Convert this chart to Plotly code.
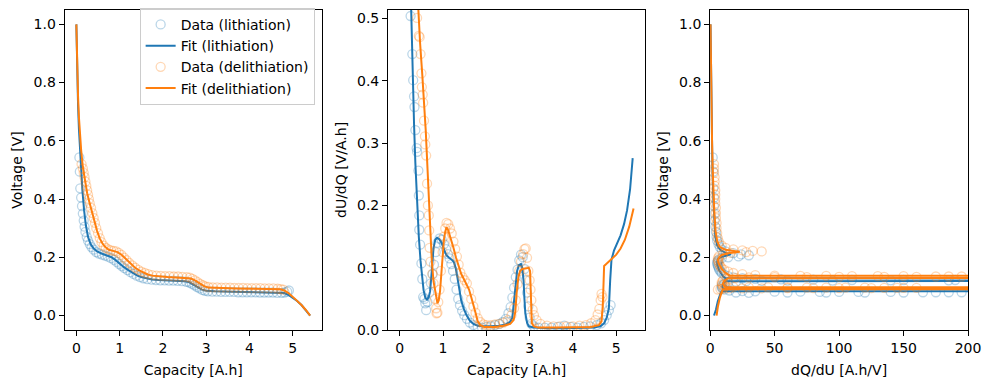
import plotly.graph_objects as go

# ---------------- Panel 1: Voltage vs Capacity ----------------
cap_lith_data = [0.07, 0.08, 0.09, 0.11, 0.13, 0.15, 0.17, 0.19, 0.21, 0.24, 0.27, 0.31, 0.35, 0.40, 0.46, 0.52,
                 0.59, 0.66, 0.73, 0.80, 0.87, 0.93, 0.99, 1.05, 1.11, 1.18, 1.25, 1.32, 1.39, 1.47, 1.55, 1.64,
                 1.74, 1.84, 1.94, 2.04, 2.14, 2.24, 2.34, 2.44, 2.54, 2.61, 2.67, 2.73, 2.79, 2.85, 2.91, 2.97,
                 3.04, 3.14, 3.24, 3.34, 3.44, 3.54, 3.64, 3.74, 3.84, 3.94, 4.04, 4.14, 4.24, 4.34, 4.44, 4.54,
                 4.64, 4.74, 4.81, 4.87, 4.91]
volt_lith_data = [0.543, 0.494, 0.437, 0.405, 0.376, 0.350, 0.326, 0.305, 0.287, 0.270, 0.257, 0.245, 0.235, 0.226,
                  0.218, 0.213, 0.209, 0.206, 0.202, 0.197, 0.191, 0.184, 0.177, 0.170, 0.163, 0.156, 0.149, 0.143,
                  0.137, 0.132, 0.128, 0.125, 0.123, 0.122, 0.121, 0.121, 0.120, 0.120, 0.119, 0.118, 0.116, 0.113,
                  0.109, 0.104, 0.098, 0.093, 0.088, 0.085, 0.083, 0.082, 0.082, 0.081, 0.081, 0.081, 0.081, 0.080,
                  0.080, 0.080, 0.080, 0.080, 0.079, 0.079, 0.079, 0.079, 0.078, 0.078, 0.079, 0.082, 0.086]

cap_lith_fit = [0.0, 0.01, 0.02, 0.04, 0.06, 0.08, 0.11, 0.14, 0.18, 0.22, 0.27, 0.33, 0.40, 0.48, 0.58, 0.70,
                0.80, 0.90, 1.00, 1.10, 1.20, 1.30, 1.40, 1.50, 1.60, 1.75, 1.90, 2.10, 2.30, 2.50, 2.60, 2.70,
                2.80, 2.90, 3.00, 3.20, 3.60, 4.00, 4.40, 4.70, 4.80, 4.90, 5.00, 5.10, 5.20, 5.30, 5.40]
volt_lith_fit = [1.0, 0.90, 0.82, 0.72, 0.64, 0.58, 0.50, 0.43, 0.36, 0.31, 0.27, 0.245, 0.23, 0.22, 0.213, 0.207,
                 0.201, 0.191, 0.178, 0.166, 0.156, 0.146, 0.138, 0.132, 0.128, 0.124, 0.122, 0.121, 0.120, 0.118,
                 0.115, 0.107, 0.097, 0.089, 0.085, 0.083, 0.082, 0.081, 0.080, 0.079, 0.077, 0.071, 0.062, 0.050,
                 0.036, 0.019, 0.0]

cap_delith_data = [0.12, 0.15, 0.17, 0.19, 0.21, 0.23, 0.25, 0.27, 0.29, 0.31, 0.34, 0.37, 0.40, 0.43, 0.46, 0.50,
                   0.54, 0.58, 0.63, 0.68, 0.74, 0.80, 0.86, 0.92, 0.98, 1.04, 1.10, 1.16, 1.22, 1.29, 1.36, 1.43,
                   1.50, 1.58, 1.66, 1.75, 1.85, 1.95, 2.05, 2.15, 2.25, 2.35, 2.45, 2.55, 2.62, 2.68, 2.74, 2.80,
                   2.86, 2.92, 2.98, 3.05, 3.15, 3.25, 3.35, 3.45, 3.55, 3.65, 3.75, 3.85, 3.95, 4.05, 4.15, 4.25,
                   4.35, 4.45, 4.55, 4.65, 4.72, 4.78]
volt_delith_data = [0.520, 0.505, 0.490, 0.475, 0.460, 0.445, 0.430, 0.415, 0.400, 0.385, 0.370, 0.352, 0.335, 0.318,
                    0.300, 0.283, 0.266, 0.252, 0.240, 0.232, 0.227, 0.224, 0.222, 0.220, 0.215, 0.208, 0.199, 0.190,
                    0.181, 0.172, 0.164, 0.157, 0.151, 0.146, 0.142, 0.139, 0.137, 0.136, 0.135, 0.135, 0.134, 0.134,
                    0.133, 0.132, 0.130, 0.126, 0.121, 0.115, 0.109, 0.104, 0.100, 0.098, 0.097, 0.097, 0.096, 0.096,
                    0.096, 0.095, 0.095, 0.095, 0.094, 0.094, 0.094, 0.094, 0.093, 0.093, 0.093, 0.092, 0.091, 0.089]

cap_delith_fit = [0.0, 0.01, 0.02, 0.04, 0.06, 0.08, 0.11, 0.15, 0.20, 0.25, 0.30, 0.36, 0.42, 0.48, 0.54, 0.60,
                  0.67, 0.75, 0.85, 0.95, 1.05, 1.15, 1.25, 1.35, 1.45, 1.55, 1.65, 1.75, 1.90, 2.10, 2.30, 2.50,
                  2.65, 2.75, 2.85, 2.95, 3.05, 3.30, 3.70, 4.10, 4.50, 4.72, 4.80, 4.90, 5.00, 5.10, 5.20, 5.30, 5.40]
volt_delith_fit = [1.0, 0.91, 0.84, 0.75, 0.68, 0.63, 0.57, 0.51, 0.46, 0.42, 0.39, 0.355, 0.32, 0.29, 0.265, 0.248,
                   0.235, 0.226, 0.222, 0.218, 0.208, 0.193, 0.178, 0.165, 0.155, 0.147, 0.141, 0.137, 0.134, 0.132,
                   0.131, 0.130, 0.127, 0.120, 0.110, 0.101, 0.096, 0.094, 0.093, 0.092, 0.091, 0.090, 0.086, 0.077,
                   0.064, 0.051, 0.036, 0.019, 0.0]

# ---------------- Panel 2: dU/dQ vs Capacity ----------------
dudq_cap_lith_data = [0.25, 0.29, 0.31, 0.33, 0.34, 0.36, 0.39, 0.40, 0.43, 0.44, 0.45, 0.45, 0.47, 0.50, 0.52, 0.54,
                      0.57, 0.59, 0.61, 0.64, 0.68, 0.72, 0.76, 0.79, 0.83, 0.87, 0.92, 0.97, 1.02, 1.07, 1.11, 1.15,
                      1.19, 1.23, 1.27, 1.31, 1.35, 1.39, 1.44, 1.49, 1.55, 1.62, 1.70, 1.80, 1.90, 2.00, 2.10, 2.20,
                      2.30, 2.38, 2.45, 2.51, 2.56, 2.60, 2.64, 2.68, 2.72, 2.76, 2.80, 2.84, 2.88, 2.91, 2.94, 2.97,
                      3.00, 3.04, 3.10, 3.20, 3.35, 3.50, 3.65, 3.80, 3.95, 4.10, 4.25, 4.40, 4.55, 4.65, 4.72, 4.78,
                      4.83, 4.87]
dudq_lith_data = [0.504, 0.443, 0.401, 0.375, 0.358, 0.321, 0.292, 0.286, 0.256, 0.216, 0.184, 0.161, 0.137, 0.107,
                  0.082, 0.053, 0.050, 0.043, 0.032, 0.045, 0.060, 0.075, 0.090, 0.105, 0.125, 0.140, 0.147, 0.145,
                  0.138, 0.130, 0.122, 0.115, 0.106, 0.095, 0.082, 0.065, 0.050, 0.040, 0.031, 0.024, 0.018, 0.012,
                  0.008, 0.005, 0.004, 0.005, 0.006, 0.008, 0.010, 0.013, 0.018, 0.027, 0.037, 0.052, 0.068, 0.085,
                  0.097, 0.112, 0.121, 0.117, 0.098, 0.080, 0.060, 0.038, 0.020, 0.010, 0.006, 0.004, 0.004, 0.004,
                  0.005, 0.007, 0.005, 0.004, 0.005, 0.006, 0.008, 0.011, 0.016, 0.024, 0.032, 0.040]

dudq_cap_lith_fit = [0.24, 0.27, 0.30, 0.33, 0.36, 0.40, 0.44, 0.48, 0.52, 0.55, 0.59, 0.63, 0.67, 0.70, 0.74, 0.78,
                     0.82, 0.86, 0.91, 0.97, 1.03, 1.08, 1.14, 1.20, 1.25, 1.29, 1.33, 1.37, 1.42, 1.48, 1.54, 1.62,
                     1.70, 1.80, 1.92, 2.10, 2.30, 2.45, 2.55, 2.60, 2.64, 2.67, 2.71, 2.75, 2.80, 2.83, 2.86, 2.88,
                     2.90, 2.94, 2.98, 3.10, 3.40, 3.80, 4.20, 4.50, 4.65, 4.72, 4.78, 4.83, 4.86, 4.89, 4.95, 5.02,
                     5.10, 5.18, 5.25, 5.32, 5.38]
dudq_lith_fit = [0.58, 0.48, 0.40, 0.33, 0.268, 0.20, 0.15, 0.111, 0.080, 0.064, 0.052, 0.049, 0.053, 0.062, 0.095,
                 0.132, 0.145, 0.148, 0.146, 0.140, 0.128, 0.120, 0.116, 0.113, 0.109, 0.100, 0.085, 0.065, 0.047,
                 0.034, 0.024, 0.015, 0.010, 0.007, 0.006, 0.006, 0.007, 0.009, 0.013, 0.020, 0.045, 0.074, 0.095,
                 0.104, 0.106, 0.100, 0.079, 0.050, 0.027, 0.012, 0.006, 0.004, 0.003, 0.003, 0.003, 0.004, 0.007,
                 0.011, 0.020, 0.035, 0.080, 0.113, 0.128, 0.140, 0.152, 0.170, 0.192, 0.226, 0.276]

dudq_cap_delith_data = [0.40, 0.44, 0.46, 0.48, 0.50, 0.51, 0.53, 0.54, 0.56, 0.58, 0.59, 0.61, 0.63, 0.65, 0.67, 0.68,
                        0.69, 0.71, 0.75, 0.78, 0.81, 0.84, 0.85, 0.87, 0.89, 0.92, 0.95, 0.99, 1.02, 1.05, 1.08, 1.12,
                        1.16, 1.20, 1.24, 1.28, 1.32, 1.36, 1.40, 1.45, 1.50, 1.55, 1.60, 1.65, 1.70, 1.75, 1.80, 1.86,
                        1.93, 2.00, 2.10, 2.20, 2.30, 2.40, 2.50, 2.58, 2.64, 2.68, 2.72, 2.76, 2.80, 2.85, 2.88, 2.91,
                        2.94, 2.97, 3.00, 3.02, 3.04, 3.07, 3.10, 3.16, 3.25, 3.40, 3.55, 3.70, 3.85, 4.00, 4.15, 4.30,
                        4.42, 4.52, 4.57, 4.61, 4.64, 4.66, 4.68]
dudq_delith_data = [0.501, 0.472, 0.470, 0.443, 0.412, 0.390, 0.378, 0.365, 0.336, 0.311, 0.298, 0.280, 0.235, 0.200,
                    0.184, 0.160, 0.132, 0.110, 0.090, 0.075, 0.050, 0.035, 0.027, 0.028, 0.045, 0.065, 0.095, 0.125,
                    0.150, 0.163, 0.172, 0.170, 0.163, 0.155, 0.142, 0.130, 0.118, 0.105, 0.092, 0.085, 0.080, 0.075,
                    0.062, 0.050, 0.038, 0.028, 0.019, 0.013, 0.009, 0.008, 0.008, 0.009, 0.010, 0.012, 0.016, 0.024,
                    0.035, 0.048, 0.074, 0.095, 0.110, 0.122, 0.130, 0.131, 0.116, 0.095, 0.080, 0.065, 0.048, 0.033,
                    0.024, 0.016, 0.010, 0.007, 0.006, 0.006, 0.006, 0.006, 0.007, 0.008, 0.011, 0.016, 0.025, 0.034,
                    0.048, 0.058, 0.053]

dudq_cap_delith_fit = [0.38, 0.42, 0.47, 0.52, 0.56, 0.60, 0.64, 0.67, 0.71, 0.74, 0.78, 0.82, 0.85, 0.87, 0.90, 0.93,
                       0.96, 0.99, 1.02, 1.05, 1.08, 1.12, 1.18, 1.24, 1.30, 1.36, 1.42, 1.48, 1.54, 1.60, 1.65, 1.70,
                       1.75, 1.80, 1.86, 1.95, 2.20, 2.40, 2.55, 2.63, 2.67, 2.70, 2.74, 2.78, 2.83, 2.90, 2.98, 3.01,
                       3.03, 3.05, 3.10, 3.20, 3.60, 4.00, 4.40, 4.60, 4.66, 4.69, 4.71, 4.72, 4.80, 4.90, 5.00, 5.10,
                       5.20, 5.30, 5.40]
dudq_delith_fit = [0.58, 0.52, 0.46, 0.41, 0.373, 0.320, 0.260, 0.216, 0.160, 0.111, 0.078, 0.059, 0.046, 0.043, 0.048,
                   0.062, 0.090, 0.121, 0.145, 0.158, 0.165, 0.160, 0.147, 0.132, 0.116, 0.102, 0.090, 0.082, 0.074,
                   0.065, 0.053, 0.042, 0.028, 0.014, 0.008, 0.005, 0.005, 0.007, 0.010, 0.016, 0.030, 0.060, 0.085,
                   0.095, 0.098, 0.099, 0.100, 0.095, 0.040, 0.011, 0.006, 0.004, 0.004, 0.004, 0.005, 0.008, 0.014,
                   0.040, 0.080, 0.103, 0.108, 0.114, 0.121, 0.131, 0.145, 0.166, 0.195]

# ---------------- Panel 3: Voltage vs dQ/dU ----------------
dqdu_lith_data = [2.0, 2.5, 2.5, 3.0, 3.0, 3.5, 3.5, 4.0, 4.5, 5.0, 5.5, 6.5, 7.5, 9.0, 12, 18, 24, 30, 22, 14, 9, 7,
                  6, 5.5, 5.5, 6, 6.5, 7, 8, 9, 11, 14, 18, 25, 35, 55, 80, 110, 150, 190, 185, 140, 95, 60, 40, 28,
                  20, 14, 11, 9, 9, 9.5, 11, 15, 25, 35, 50, 70, 85, 100, 115, 140, 165, 185, 195, 175, 150, 120, 90,
                  60, 30, 20]
dqdu_volt_lith_data = [0.543, 0.494, 0.437, 0.405, 0.376, 0.350, 0.326, 0.305, 0.287, 0.270, 0.257, 0.245, 0.235,
                       0.226, 0.220, 0.214, 0.210, 0.207, 0.203, 0.200, 0.197, 0.193, 0.188, 0.183, 0.177, 0.171,
                       0.165, 0.158, 0.152, 0.146, 0.140, 0.135, 0.131, 0.128, 0.126, 0.124, 0.123, 0.122, 0.122,
                       0.122, 0.121, 0.121, 0.120, 0.120, 0.119, 0.118, 0.116, 0.113, 0.109, 0.104, 0.098, 0.093,
                       0.089, 0.086, 0.084, 0.083, 0.082, 0.082, 0.081, 0.081, 0.081, 0.081, 0.080, 0.080, 0.080,
                       0.080, 0.079, 0.079, 0.079, 0.079, 0.078, 0.079]

dqdu_lith_fit = [0.3, 0.5, 0.7, 1.0, 1.3, 1.8, 2.5, 3.2, 4.0, 5.5, 8, 12, 16, 12, 8, 6, 5.5, 5.5, 6, 7, 8.5, 10, 12,
                 1000, 1000, 12, 10, 9.5, 10, 1000, 1000, 9, 8, 6, 4.5, 3]
dqdu_volt_lith_fit = [1.0, 0.9, 0.8, 0.7, 0.6, 0.5, 0.4, 0.32, 0.27, 0.24, 0.225, 0.215, 0.210, 0.205, 0.200, 0.193,
                      0.185, 0.175, 0.165, 0.155, 0.145, 0.135, 0.128, 0.1255, 0.1225, 0.118, 0.110, 0.100, 0.092,
                      0.0895, 0.0865, 0.083, 0.075, 0.05, 0.02, 0.0]

dqdu_delith_data = [3.0, 3.0, 3.0, 3.5, 3.5, 3.5, 4.0, 4.0, 4.0, 4.0, 4.5, 4.5, 4.5, 5.0, 5.0, 5.5, 6.0, 7.0, 9.0, 12,
                    18, 25, 33, 40, 28, 16, 10, 7, 6, 6, 6.5, 7, 8, 9, 11, 14, 18, 25, 35, 50, 70, 90, 110, 130, 150,
                    175, 195, 185, 160, 135, 100, 75, 50, 30, 20, 13, 10, 9, 9, 10, 12, 18, 30, 45, 60, 75, 90, 105,
                    120, 135, 150, 160, 145, 125, 100, 80, 60, 40, 25, 15, 10, 8, 6]
dqdu_volt_delith_data = [0.520, 0.505, 0.490, 0.475, 0.460, 0.445, 0.430, 0.415, 0.400, 0.385, 0.370, 0.352, 0.335,
                         0.318, 0.300, 0.283, 0.266, 0.252, 0.240, 0.232, 0.227, 0.224, 0.222, 0.220, 0.218, 0.215,
                         0.210, 0.204, 0.197, 0.190, 0.183, 0.176, 0.169, 0.163, 0.157, 0.151, 0.146, 0.142, 0.139,
                         0.137, 0.136, 0.136, 0.135, 0.135, 0.135, 0.134, 0.134, 0.134, 0.133, 0.133, 0.133, 0.132,
                         0.132, 0.131, 0.129, 0.126, 0.121, 0.115, 0.109, 0.104, 0.100, 0.098, 0.097, 0.097, 0.097,
                         0.096, 0.096, 0.096, 0.096, 0.095, 0.095, 0.095, 0.095, 0.094, 0.094, 0.094, 0.094, 0.093,
                         0.093, 0.093, 0.092, 0.091, 0.089]

dqdu_delith_fit = [0.3, 0.5, 0.8, 1.1, 1.5, 2.0, 2.6, 3.3, 4.2, 5.5, 7.5, 12, 18, 23, 15, 9, 7, 6, 6.5, 7.5, 9, 11,
                   13, 15, 1000, 1000, 14, 11, 10, 11, 12, 1000, 1000, 10, 9, 7.5, 6, 5]
dqdu_volt_delith_fit = [1.0, 0.9, 0.8, 0.7, 0.6, 0.5, 0.42, 0.35, 0.29, 0.255, 0.235, 0.226, 0.222, 0.219, 0.215,
                        0.208, 0.200, 0.190, 0.180, 0.170, 0.160, 0.150, 0.142, 0.137, 0.1355, 0.1315, 0.128, 0.120,
                        0.110, 0.100, 0.097, 0.0965, 0.0935, 0.090, 0.080, 0.06, 0.03, 0.0]

BLUE = "#1f77b4"
ORANGE = "#ff7f0e"
BLUE_A = "rgba(31,119,180,0.3)"
ORANGE_A = "rgba(255,127,14,0.3)"
FONT = "DejaVu Sans"


def data_trace(x, y, color, name, xa, ya, show):
    return go.Scatter(x=x, y=y, mode="markers", name=name, showlegend=show, xaxis=xa, yaxis=ya,
                      marker=dict(symbol="circle-open", size=9, color=color, line=dict(width=1.3, color=color)))


def fit_trace(x, y, color, name, xa, ya, show):
    return go.Scatter(x=x, y=y, mode="lines", name=name, showlegend=show, xaxis=xa, yaxis=ya,
                      line=dict(color=color, width=2))


fig = go.Figure()
# Panel 1
fig.add_trace(data_trace(cap_lith_data, volt_lith_data, BLUE_A, "Data (lithiation)", "x", "y", True))
fig.add_trace(fit_trace(cap_lith_fit, volt_lith_fit, BLUE, "Fit (lithiation)", "x", "y", True))
fig.add_trace(data_trace(cap_delith_data, volt_delith_data, ORANGE_A, "Data (delithiation)", "x", "y", True))
fig.add_trace(fit_trace(cap_delith_fit, volt_delith_fit, ORANGE, "Fit (delithiation)", "x", "y", True))
# Panel 2
fig.add_trace(data_trace(dudq_cap_lith_data, dudq_lith_data, BLUE_A, "Data (lithiation)", "x2", "y2", False))
fig.add_trace(fit_trace(dudq_cap_lith_fit, dudq_lith_fit, BLUE, "Fit (lithiation)", "x2", "y2", False))
fig.add_trace(data_trace(dudq_cap_delith_data, dudq_delith_data, ORANGE_A, "Data (delithiation)", "x2", "y2", False))
fig.add_trace(fit_trace(dudq_cap_delith_fit, dudq_delith_fit, ORANGE, "Fit (delithiation)", "x2", "y2", False))
# Panel 3
fig.add_trace(data_trace(dqdu_lith_data, dqdu_volt_lith_data, BLUE_A, "Data (lithiation)", "x3", "y3", False))
fig.add_trace(fit_trace(dqdu_lith_fit, dqdu_volt_lith_fit, BLUE, "Fit (lithiation)", "x3", "y3", False))
fig.add_trace(data_trace(dqdu_delith_data, dqdu_volt_delith_data, ORANGE_A, "Data (delithiation)", "x3", "y3", False))
fig.add_trace(fit_trace(dqdu_delith_fit, dqdu_volt_delith_fit, ORANGE, "Fit (delithiation)", "x3", "y3", False))

W, H = 1003, 390
ydom = [1 - 337 / H, 1 - 10 / H]
dom1 = [61.7 / W, 323.3 / W]
dom2 = [390.7 / W, 652.3 / W]
dom3 = [718.3 / W, 980.7 / W]

axis_common = dict(showline=True, linecolor="black", linewidth=1, mirror=True, ticks="outside", ticklen=5,
                   tickwidth=1, tickcolor="black", showgrid=False, zeroline=False,
                   tickfont=dict(family=FONT, size=14, color="black"),
                   title_font=dict(family=FONT, size=14, color="black"))

fig.update_layout(
    width=W, height=H, margin=dict(l=0, r=0, t=0, b=0),
    paper_bgcolor="white", plot_bgcolor="white",
    font=dict(family=FONT, size=14, color="black"),
    xaxis=dict(domain=dom1, anchor="y", range=[-0.27, 5.67], tickvals=[0, 1, 2, 3, 4, 5],
               title=dict(text="Capacity [A.h]", standoff=10), **axis_common),
    yaxis=dict(domain=ydom, anchor="x", range=[-0.05, 1.05], tickvals=[0, 0.2, 0.4, 0.6, 0.8, 1.0],
               tickformat=".1f", title=dict(text="Voltage [V]", standoff=7), **axis_common),
    xaxis2=dict(domain=dom2, anchor="y2", range=[-0.27, 5.67], tickvals=[0, 1, 2, 3, 4, 5],
                title=dict(text="Capacity [A.h]", standoff=10), **axis_common),
    yaxis2=dict(domain=ydom, anchor="x2", range=[0, 0.514], tickvals=[0, 0.1, 0.2, 0.3, 0.4, 0.5],
                tickformat=".1f", title=dict(text="dU/dQ [V/A.h]", standoff=7), **axis_common),
    xaxis3=dict(domain=dom3, anchor="y3", range=[0, 200], tickvals=[0, 50, 100, 150, 200],
                title=dict(text="dQ/dU [A.h/V]", standoff=10), **axis_common),
    yaxis3=dict(domain=ydom, anchor="x3", range=[-0.05, 1.05], tickvals=[0, 0.2, 0.4, 0.6, 0.8, 1.0],
                tickformat=".1f", title=dict(text="Voltage [V]", standoff=7), **axis_common),
    legend=dict(x=316 / W, y=1 - 8 / H, xanchor="right", yanchor="top", bgcolor="rgba(255,255,255,0.8)",
                bordercolor="#cccccc", borderwidth=1, font=dict(family=FONT, size=14, color="black"),
                tracegroupgap=0, itemwidth=30),
)

fig.write_html("out.html", config={"displayModeBar": False},
               post_script="document.body.style.margin='0';")
